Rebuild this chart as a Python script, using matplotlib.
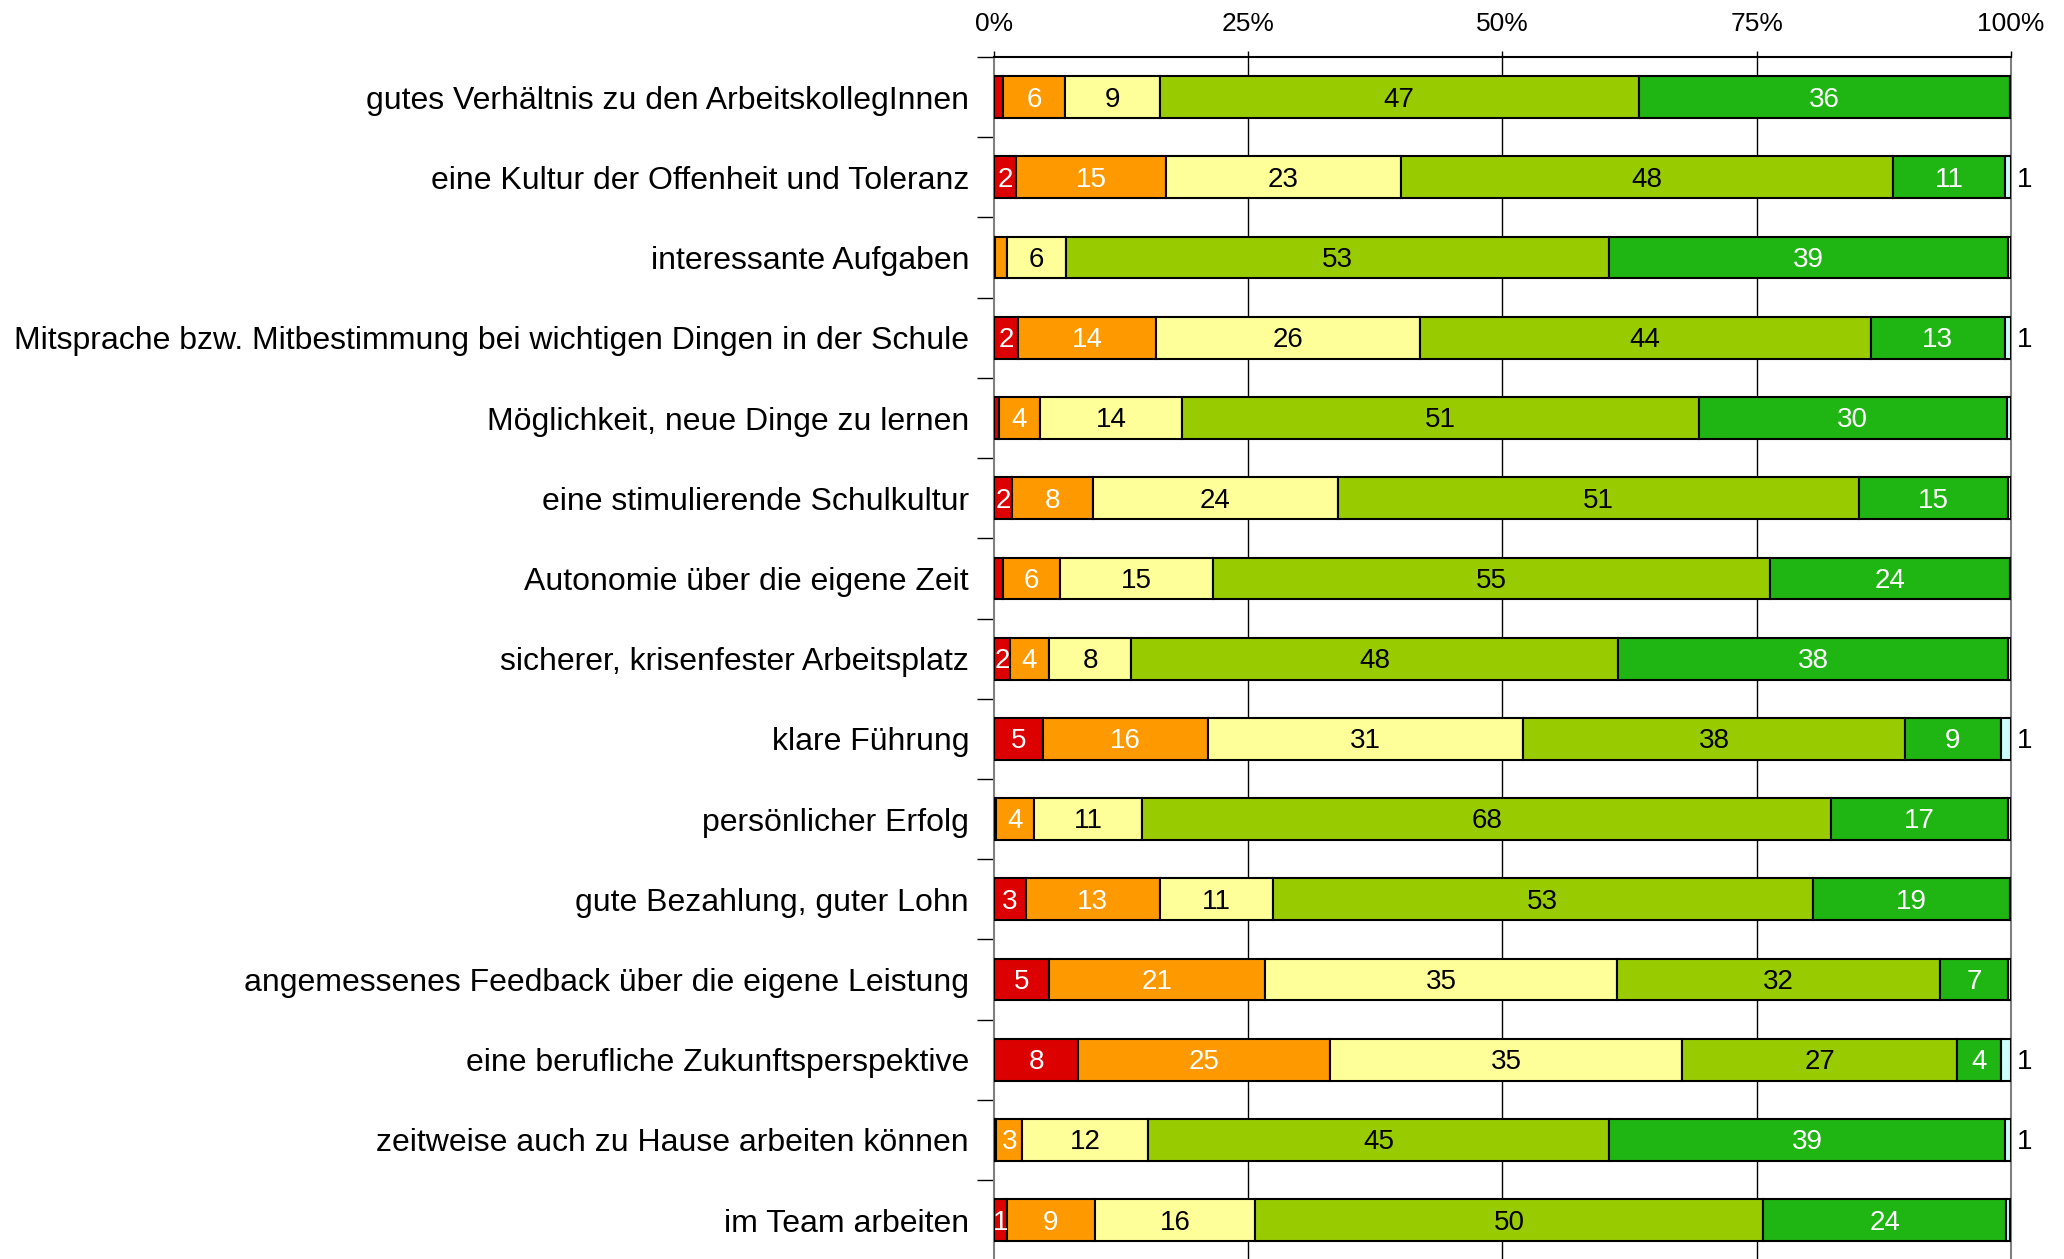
import matplotlib
matplotlib.use("Agg")
from matplotlib import pyplot as plt
import numpy as np

plt.rcParams["font.family"] = ["Liberation Sans", "DejaVu Sans"]

categories = [
    "gutes Verhältnis zu den ArbeitskollegInnen",
    "eine Kultur der Offenheit und Toleranz",
    "interessante Aufgaben",
    "Mitsprache bzw. Mitbestimmung bei wichtigen Dingen in der Schule",
    "Möglichkeit, neue Dinge zu lernen",
    "eine stimulierende Schulkultur",
    "Autonomie über die eigene Zeit",
    "sicherer, krisenfester Arbeitsplatz",
    "klare Führung",
    "persönlicher Erfolg",
    "gute Bezahlung, guter Lohn",
    "angemessenes Feedback über die eigene Leistung",
    "eine berufliche Zukunftsperspektive",
    "zeitweise auch zu Hause arbeiten können",
    "im Team arbeiten",
]

# percentages per answer category
red    = [0.9, 2.2, 0.1, 2.4, 0.5, 1.8, 0.9, 1.6, 4.8, 0.2, 3.1, 5.4, 8.3, 0.2, 1.25]
orange = [6.1, 14.7, 1.15, 13.5, 4.0, 7.9, 5.6, 3.8, 16.2, 3.7, 13.2, 21.2, 24.7, 2.6, 8.7]
yellow = [9.3, 23.1, 5.8, 26.0, 14.0, 24.1, 15.0, 8.1, 31.0, 10.7, 11.1, 34.7, 34.7, 12.3, 15.7]
ygreen = [47.1, 48.4, 53.4, 44.3, 50.8, 51.3, 54.8, 47.9, 37.6, 67.7, 53.1, 31.7, 27.0, 45.4, 50.0]
green  = [36.5, 11.0, 39.3, 13.2, 30.3, 14.6, 23.6, 38.3, 9.4, 17.4, 19.4, 6.7, 4.3, 38.9, 23.9]
cyan   = [0.1, 0.6, 0.25, 0.6, 0.4, 0.3, 0.3, 0.3, 1.0, 0.3, 0.1, 0.3, 1.0, 0.6, 0.4]

series = [red, orange, yellow, ygreen, green, cyan]
colors = ["#DD0000", "#FF9900", "#FFFF99", "#99CC00", "#1FB512", "#CCFFFF"]
text_colors = ["white", "white", "black", "black", "white", "black"]

fig = plt.figure(figsize=(20.64, 12.59), dpi=100)
ax = fig.add_axes([0.4816, -0.001, 0.4927, 0.9557])

y = np.arange(len(categories))
left = np.zeros(len(categories))
for i, vals in enumerate(series):
    vals = np.array(vals)
    ax.barh(y, vals, left=left, height=0.52, color=colors[i],
            edgecolor="black", linewidth=1.5, zorder=3)
    for j, v in enumerate(vals):
        if i < 5 and v >= 1.2:
            ax.text(left[j] + v / 2, y[j] + 0.03, str(int(round(v))), ha="center",
                    va="center", fontsize=20, color=text_colors[i], zorder=4)
        elif i == 5 and v >= 0.5:
            ax.text(100.6, y[j] + 0.03, str(int(round(v))), ha="left", va="center",
                    fontsize=20, color="black", zorder=4)
    left += vals

ax.set_xlim(0, 100)
ax.set_ylim(len(categories) - 0.5, -0.5)
ax.xaxis.tick_top()
ax.set_xticks([0, 25, 50, 75, 100])
ax.set_xticklabels(["0%", "25%", "50%", "75%", "100%"], fontsize=19)
ax.tick_params(axis="x", length=4, pad=11, width=1)
for xv in [25, 50, 75]:
    ax.axvline(xv, color="black", lw=1, zorder=1)

ax.set_yticks(y)
ax.set_yticklabels(categories, fontsize=23)
ax.tick_params(axis="y", which="major", length=0, pad=18)
ax.set_yticks(np.arange(-0.5, len(categories), 1), minor=True)
ax.tick_params(axis="y", which="minor", length=12, width=1, color="black")

ax.spines["top"].set_color("black")
ax.spines["left"].set_color("#808080")
ax.spines["right"].set_color("#808080")
ax.spines["bottom"].set_visible(False)
for s in ax.spines.values():
    s.set_linewidth(1.5)

fig.savefig("out.png", dpi=100)
